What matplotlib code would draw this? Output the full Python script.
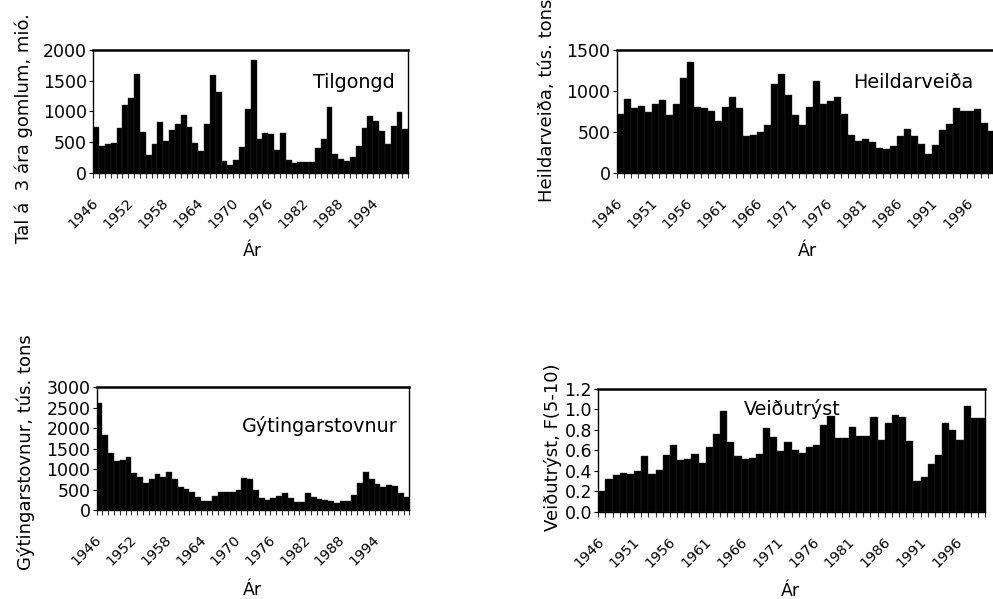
"""
Four bar panels: recruitment, total catch, spawning stock and fishing mortality.
"""
import numpy as np
import matplotlib
matplotlib.use('Agg')
import matplotlib.pyplot as plt
import matplotlib.transforms as mtrans
from matplotlib.ticker import FixedLocator, FormatStrFormatter

W, H = 993, 599

years = list(range(1946, 2000))

tilgongd = [750, 435, 460, 485, 725, 1100, 1210, 1605, 665, 290,
            460, 820, 515, 700, 800, 935, 745, 490, 355, 795,
            1600, 1310, 185, 130, 215, 420, 1035, 1835, 545, 640,
            630, 365, 655, 215, 160, 170, 170, 180, 410, 545,
            1065, 310, 225, 195, 260, 435, 735, 920, 835, 680,
            460, 765, 995, 710]

heildarveida = [717, 897, 787, 811, 746, 840, 889, 709, 840, 1162,
                1358, 807, 787, 754, 636, 799, 921, 791, 452, 461,
                493, 583, 1084, 1207, 946, 701, 579, 807, 1121, 844,
                876, 921, 713, 457, 391, 412, 371, 302, 289, 322,
                444, 534, 448, 351, 228, 334, 526, 595, 787, 754,
                750, 779, 607, 510]

gytingarstovnur = [2610, 1835, 1385, 1190, 1220, 1305, 895, 800, 670, 750,
                   870, 805, 930, 760, 560, 505, 450, 325, 230, 230,
                   350, 440, 450, 440, 495, 790, 765, 480, 285, 245,
                   285, 340, 425, 285, 185, 205, 425, 325, 275, 245,
                   210, 165, 230, 230, 365, 670, 920, 765, 645, 555,
                   605, 590, 425, 310]

veidutryst = [0.20, 0.32, 0.36, 0.375, 0.37, 0.40, 0.545, 0.365, 0.41, 0.555,
              0.65, 0.51, 0.52, 0.565, 0.48, 0.635, 0.76, 0.98, 0.68, 0.545,
              0.515, 0.53, 0.56, 0.815, 0.735, 0.595, 0.685, 0.60, 0.57, 0.63,
              0.65, 0.845, 0.94, 0.725, 0.725, 0.83, 0.745, 0.74, 0.93, 0.705,
              0.865, 0.95, 0.93, 0.69, 0.30, 0.335, 0.465, 0.555, 0.87, 0.795,
              0.70, 1.035, 0.915, 0.915]


def pxbox(left, top, right, bottom):
    """Pixel box -> figure fraction rect."""
    return [left / W, 1 - bottom / H, (right - left) / W, (bottom - top) / H]


def figtext(fig, x, y, s, **kw):
    fig.text(x / W, 1 - y / H, s, **kw)


def barpanel(fig, box, values, yticks, labelstep, yfmt='%d'):
    ax = fig.add_axes(pxbox(*box))
    x = np.arange(len(values))
    ax.bar(x, values, width=1.0, color='black', edgecolor='#2a2a2a', linewidth=0.3)
    ax.set_xlim(-0.5, len(values) - 0.5)
    ax.set_ylim(0, yticks[-1])
    ax.set_yticks(yticks)
    ax.yaxis.set_major_formatter(FormatStrFormatter(yfmt))

    ax.set_xticks(x[::labelstep])
    ax.set_xticklabels([str(years[i]) for i in x[::labelstep]], rotation=45,
                       ha='right', va='center', rotation_mode='anchor', fontsize=10.3)
    # shift the slanted year labels a little to the left
    shift = mtrans.ScaledTranslation(-6 / 100, 0, fig.dpi_scale_trans)
    for lab in ax.get_xticklabels():
        lab.set_transform(lab.get_transform() + shift)
    ax.xaxis.set_minor_locator(FixedLocator(np.arange(-0.5, len(values), 1.0)))
    ax.tick_params(axis='x', which='major', length=0, pad=20)
    ax.tick_params(axis='x', which='minor', length=3.5, width=0.8, color='#333333')
    ax.tick_params(axis='y', length=3, width=0.8, pad=1.5, labelsize=12.5)

    for side in ['left', 'right', 'bottom']:
        ax.spines[side].set_linewidth(1.0)
        ax.spines[side].set_color('black')
    ax.spines['top'].set_linewidth(1.8)
    return ax


def main():
    plt.rcParams['font.family'] = ['DejaVu Sans']
    fig = plt.figure(figsize=(W / 100, H / 100), dpi=100)

    barpanel(fig, (93.3, 50, 408.3, 172.7), tilgongd, [0, 500, 1000, 1500, 2000], 6)
    barpanel(fig, (616.7, 50, 995.2, 172.7), heildarveida, [0, 500, 1000, 1500], 5)
    barpanel(fig, (96.7, 387.3, 409.3, 510), gytingarstovnur,
             [0, 500, 1000, 1500, 2000, 2500, 3000], 6)
    barpanel(fig, (598.3, 389, 985, 511.7), veidutryst,
             [0.0, 0.2, 0.4, 0.6, 0.8, 1.0, 1.2], 5, yfmt='%.1f')

    # panel names
    figtext(fig, 313, 88, 'Tilgongd', fontsize=13.8, ha='left', va='baseline')
    figtext(fig, 853, 88, 'Heildarveiða', fontsize=13.8, ha='left', va='baseline')
    figtext(fig, 242, 432, 'Gýtingarstovnur', fontsize=13.8, ha='left', va='baseline')
    figtext(fig, 744, 415, 'Veiðutrýst', fontsize=13.8, ha='left', va='baseline')

    # axis titles
    figtext(fig, 24, 128, 'Tal á  3 ára gomlum, mió.', fontsize=13, rotation=90,
            ha='center', va='center')
    figtext(fig, 547, 100, 'Heildarveiða, tús. tons', fontsize=13, rotation=90,
            ha='center', va='center')
    figtext(fig, 26, 452, 'Gýtingarstovnur, tús. tons', fontsize=13, rotation=90,
            ha='center', va='center')
    figtext(fig, 553, 447, 'Veiðutrýst, F(5-10)', fontsize=13, rotation=90,
            ha='center', va='center')
    for xp, yp in [(252, 251), (807, 251), (252, 590), (790, 591)]:
        figtext(fig, xp, yp, 'Ár', fontsize=12.5, ha='center', va='center')

    fig.savefig('out.png', dpi=100)


if __name__ == '__main__':
    main()
